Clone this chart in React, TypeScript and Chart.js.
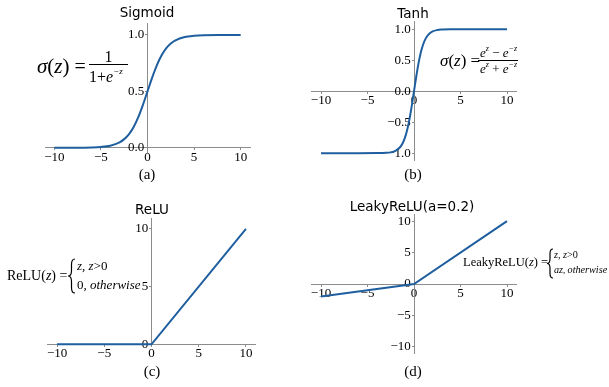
import React, { useEffect, useRef } from "react";
import { Chart, registerables } from "chart.js";

Chart.register(...registerables);

// ---------- data ----------
const sigmoidX = [-10, -8, -6, -5, -4, -3, -2.5, -2, -1.5, -1, -0.5, 0, 0.5, 1, 1.5, 2, 2.5, 3, 4, 5, 6, 8, 10];
const sigmoidY = [0.0, 0.0003, 0.0025, 0.0067, 0.018, 0.047, 0.076, 0.119, 0.182, 0.269, 0.378, 0.5, 0.622, 0.731, 0.818, 0.881, 0.924, 0.953, 0.982, 0.993, 0.998, 0.9997, 1.0];
const tanhX = [-10, -6, -4, -3, -2.5, -2, -1.5, -1.25, -1, -0.75, -0.5, -0.25, 0, 0.25, 0.5, 0.75, 1, 1.25, 1.5, 2, 2.5, 3, 4, 6, 10];
const tanhY = [-1, -1, -0.999, -0.995, -0.987, -0.964, -0.905, -0.848, -0.762, -0.635, -0.462, -0.245, 0, 0.245, 0.462, 0.635, 0.762, 0.848, 0.905, 0.964, 0.987, 0.995, 0.999, 1, 1];
const reluX = [-10, 0, 10];
const reluY = [0, 0, 10];
const leakyX = [-10, 0, 10];
const leakyY = [-2, 0, 10];

const xTicks = [-10, -5, 0, 5, 10];
const sigmoidYTicks = [0, 0.5, 1];
const tanhYTicks = [-1, -0.5, 0, 0.5, 1];
const reluYTicks = [0, 5, 10];
const leakyYTicks = [-10, -5, 0, 5, 10];

const titles = ["Sigmoid", "Tanh", "ReLU", "LeakyReLU(a=0.2)"];
const captions = ["(a)", "(b)", "(c)", "(d)"];

// ---------- styles ----------
const W = 609;
const H = 387;
const SERIF = "'Liberation Serif','Times New Roman',serif";
const SANS = "'DejaVu Sans','Liberation Sans',sans-serif";
const LINE = "#1f5f9f";
const AXIS = "#8c8c8c";
const TEXT = "#000000";

type Part = { t: string; s: number; i?: boolean; dy?: number };

function run(ctx: CanvasRenderingContext2D, x: number, y: number, parts: Part[]) {
  let cx = x;
  ctx.textAlign = "left";
  ctx.textBaseline = "alphabetic";
  for (const p of parts) {
    ctx.font = `${p.i ? "italic " : ""}${p.s}px ${SERIF}`;
    ctx.fillText(p.t, cx, y + (p.dy || 0));
    cx += ctx.measureText(p.t).width;
  }
  return cx;
}

function hline(ctx: CanvasRenderingContext2D, x1: number, x2: number, y: number) {
  ctx.beginPath();
  ctx.moveTo(x1, y);
  ctx.lineTo(x2, y);
  ctx.lineWidth = 1;
  ctx.strokeStyle = TEXT;
  ctx.stroke();
}

function brace(ctx: CanvasRenderingContext2D, x: number, top: number, bottom: number, w: number) {
  const mid = (top + bottom) / 2;
  const xm = x + w * 0.5;
  const k = w * 0.8;
  ctx.beginPath();
  ctx.moveTo(x + w, top);
  ctx.quadraticCurveTo(xm, top, xm, top + k);
  ctx.lineTo(xm, mid - k);
  ctx.quadraticCurveTo(xm, mid, x, mid);
  ctx.quadraticCurveTo(xm, mid, xm, mid + k);
  ctx.lineTo(xm, bottom - k);
  ctx.quadraticCurveTo(xm, bottom, x + w, bottom);
  ctx.lineWidth = 1.2;
  ctx.strokeStyle = TEXT;
  ctx.stroke();
}

function drawSigmoidFormula(ctx: CanvasRenderingContext2D) {
  run(ctx, 37, 73, [
    { t: "σ", s: 21, i: true },
    { t: "(", s: 21 },
    { t: "z", s: 21, i: true },
    { t: ")", s: 21 },
    { t: " =", s: 20 },
  ]);
  hline(ctx, 89, 128, 64.5);
  ctx.font = `16px ${SERIF}`;
  ctx.textAlign = "center";
  ctx.fillText("1", 108.5, 62);
  run(ctx, 89, 82, [
    { t: "1", s: 16 },
    { t: "+", s: 16 },
    { t: "e", s: 16, i: true },
    { t: "−z", s: 9, i: true, dy: -8 },
  ]);
}

function drawTanhFormula(ctx: CanvasRenderingContext2D) {
  run(ctx, 440, 66, [
    { t: "σ", s: 17, i: true },
    { t: "(", s: 17 },
    { t: "z", s: 17, i: true },
    { t: ")", s: 17 },
    { t: " =", s: 17 },
  ]);
  hline(ctx, 478, 518, 60.5);
  run(ctx, 480, 56.5, [
    { t: "e", s: 13, i: true },
    { t: "z", s: 8, i: true, dy: -6 },
    { t: " − ", s: 13 },
    { t: "e", s: 13, i: true },
    { t: "−z", s: 8, i: true, dy: -6 },
  ]);
  run(ctx, 480, 72.5, [
    { t: "e", s: 13, i: true },
    { t: "z", s: 8, i: true, dy: -6 },
    { t: " + ", s: 13 },
    { t: "e", s: 13, i: true },
    { t: "−z", s: 8, i: true, dy: -6 },
  ]);
}

function drawReluFormula(ctx: CanvasRenderingContext2D) {
  run(ctx, 7, 280, [
    { t: "ReLU", s: 14 },
    { t: "(", s: 14 },
    { t: "z", s: 14, i: true },
    { t: ")", s: 14 },
    { t: " =", s: 14 },
  ]);
  brace(ctx, 68, 259, 293, 7);
  run(ctx, 77, 270, [
    { t: "z", s: 13, i: true },
    { t: ", ", s: 13 },
    { t: "z", s: 13, i: true },
    { t: ">0", s: 13 },
  ]);
  run(ctx, 77, 289, [
    { t: "0, ", s: 13 },
    { t: "otherwise", s: 13, i: true },
  ]);
}

function drawLeakyFormula(ctx: CanvasRenderingContext2D) {
  run(ctx, 463, 266, [
    { t: "LeakyReLU", s: 12.5 },
    { t: "(", s: 12.5 },
    { t: "z", s: 12.5, i: true },
    { t: ")", s: 12.5 },
    { t: " =", s: 12.5 },
  ]);
  brace(ctx, 547, 249, 278, 6);
  run(ctx, 554, 258, [
    { t: "z", s: 10.2, i: true },
    { t: ", ", s: 10.2 },
    { t: "z", s: 10.2, i: true },
    { t: ">0", s: 10.2 },
  ]);
  run(ctx, 554, 273, [
    { t: "az", s: 10.2, i: true },
    { t: ", ", s: 9 },
    { t: "otherwise", s: 10.2, i: true },
  ]);
}

type Panel = {
  xs: number[];
  ys: number[];
  yTicks: number[];
  decimals: number;
  xMin: number;
  xMax: number;
  yMin: number;
  yMax: number;
  area: { left: number; top: number; right: number; bottom: number };
  titlePos: [number, number];
  captionPos: [number, number];
  smooth: boolean;
  formula: (ctx: CanvasRenderingContext2D) => void;
};

const panels: Panel[] = [
  {
    xs: sigmoidX, ys: sigmoidY, yTicks: sigmoidYTicks, decimals: 1,
    xMin: -11, xMax: 11, yMin: -0.04, yMax: 1.1,
    area: { left: 45, right: 250, top: 23.7, bottom: 152.2 },
    titlePos: [147, 13], captionPos: [147, 175], smooth: true, formula: drawSigmoidFormula,
  },
  {
    xs: tanhX, ys: tanhY, yTicks: tanhYTicks, decimals: 1,
    xMin: -11, xMax: 11, yMin: -1.12, yMax: 1.12,
    area: { left: 311.7, right: 516.3, top: 21.8, bottom: 160.6 },
    titlePos: [413, 14], captionPos: [413, 175], smooth: true, formula: drawTanhFormula,
  },
  {
    xs: reluX, ys: reluY, yTicks: reluYTicks, decimals: 0,
    xMin: -11, xMax: 11, yMin: -0.15, yMax: 10.9,
    area: { left: 47.6, right: 255.4, top: 218.6, bottom: 346 },
    titlePos: [152, 210.5], captionPos: [152, 372], smooth: false, formula: drawReluFormula,
  },
  {
    xs: leakyX, ys: leakyY, yTicks: leakyYTicks, decimals: 0,
    xMin: -11, xMax: 11, yMin: -11, yMax: 11,
    area: { left: 311.7, right: 516.3, top: 214.9, bottom: 353.1 },
    titlePos: [412, 207.5], captionPos: [413, 372], smooth: false, formula: drawLeakyFormula,
  },
];

function fmt(v: number, d: number) {
  const s = Number(v).toFixed(d);
  return s.replace("-", "−");
}

export default function App() {
  const refs = [
    useRef<HTMLCanvasElement>(null),
    useRef<HTMLCanvasElement>(null),
    useRef<HTMLCanvasElement>(null),
    useRef<HTMLCanvasElement>(null),
  ];

  useEffect(() => {
    const charts: Chart[] = [];
    panels.forEach((p, idx) => {
      const canvas = refs[idx].current;
      if (!canvas) return;
      const tickFont = { family: SERIF, size: 13 };
      const annot = {
        id: "annot" + idx,
        afterDraw(chart: Chart) {
          const ctx = chart.ctx;
          ctx.save();
          ctx.fillStyle = TEXT;
          ctx.font = `13.5px ${SANS}`;
          ctx.textAlign = "center";
          ctx.textBaseline = "middle";
          ctx.fillText(titles[idx], p.titlePos[0], p.titlePos[1]);
          ctx.font = `15px ${SERIF}`;
          ctx.fillText(captions[idx], p.captionPos[0], p.captionPos[1]);
          p.formula(ctx);
          ctx.restore();
        },
      };
      const chart = new Chart(canvas, {
        type: "line",
        data: {
          datasets: [
            {
              data: p.xs.map((x, i) => ({ x, y: p.ys[i] })),
              borderColor: LINE,
              borderWidth: 2,
              pointRadius: 0,
              fill: false,
              tension: p.smooth ? 0.4 : 0,
              cubicInterpolationMode: p.smooth ? "monotone" : "default",
            },
          ],
        },
        options: {
          responsive: false,
          maintainAspectRatio: false,
          animation: false,
          devicePixelRatio: 1,
          layout: {
            padding: {
              left: p.area.left,
              right: W - p.area.right,
              top: p.area.top,
              bottom: H - p.area.bottom,
            },
          },
          plugins: {
            legend: { display: false },
            title: { display: false },
            tooltip: { enabled: false },
          },
          scales: {
            x: {
              type: "linear",
              min: p.xMin,
              max: p.xMax,
              position: { y: 0 } as any,
              afterBuildTicks: (s: any) => {
                s.ticks = xTicks.map((v) => ({ value: v }));
              },
              ticks: {
                font: tickFont,
                color: TEXT,
                padding: 0,
                autoSkip: false,
                maxRotation: 0,
                callback: (v: any) => fmt(v, 0),
              },
              grid: { drawOnChartArea: false, drawTicks: true, tickLength: 2, color: AXIS },
              border: { display: true, color: AXIS, width: 1 },
            },
            y: {
              type: "linear",
              min: p.yMin,
              max: p.yMax,
              position: { x: 0 } as any,
              afterBuildTicks: (s: any) => {
                s.ticks = p.yTicks.map((v) => ({ value: v }));
              },
              ticks: {
                font: tickFont,
                color: TEXT,
                padding: 1,
                autoSkip: false,
                callback: (v: any) => fmt(v, p.decimals) + " ",
              },
              grid: { drawOnChartArea: false, drawTicks: true, tickLength: 2, color: AXIS },
              border: { display: true, color: AXIS, width: 1 },
            },
          },
        } as any,
        plugins: [annot as any],
      });
      charts.push(chart);
    });
    return () => charts.forEach((c) => c.destroy());
  }, []);

  return (
    <div style={{ position: "absolute", left: 0, top: 0, width: W, height: H, background: "#fff" }}>
      {refs.map((r, i) => (
        <canvas
          key={i}
          ref={r}
          width={W}
          height={H}
          style={{ position: "absolute", left: 0, top: 0, width: W, height: H }}
        />
      ))}
    </div>
  );
}
